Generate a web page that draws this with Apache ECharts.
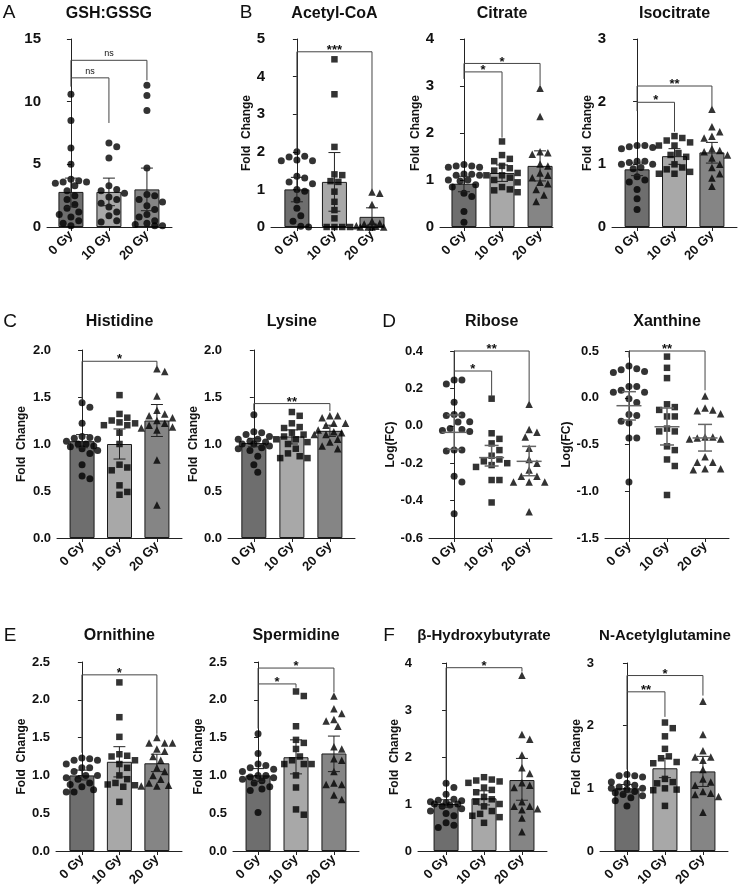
<!DOCTYPE html>
<html>
<head>
    <meta charset="utf-8">
    <script src="https://cdn.jsdelivr.net/npm/echarts@6/dist/echarts.min.js"></script>
    <style>
        body { margin: 0; background: #fff; }
        #main { width: 740px; height: 895px; }
    </style>
</head>
<body>
    <div id="main"></div>
    <script type="text/javascript">
        var FONT = '"Liberation Sans", Arial, sans-serif';
        var doses = ['0 Gy', '10 Gy', '20 Gy'];
        var barColors = ['#6e6e6e', '#a8a8a8', '#858585'];
        var symbols = ['circle', 'rect', 'triangle'];

        // A - GSH:GSSG
        var gsh0 = [10.6, 8.5, 6.3, 5.0, 3.8, 3.7, 3.6, 3.6, 3.5, 3.3, 2.9, 2.5, 2.2, 1.8, 1.5, 1.2, 1.0, 0.8, 0.5, 0.3, 0.1];
        var gsh10 = [6.7, 6.4, 5.5, 3.3, 3.0, 2.9, 2.7, 2.4, 2.2, 1.9, 1.6, 1.2, 0.9, 0.5, 0.4];
        var gsh20 = [11.3, 10.5, 9.3, 4.7, 2.6, 2.5, 2.2, 2.0, 1.7, 1.4, 1.0, 0.8, 0.5, 0.3, 0.2, 0.1, 0.1];
        var gshMean = [2.8, 2.8, 3.0];
        var gshLow = [1.6, 1.7, 1.3];
        var gshHigh = [3.9, 3.9, 4.7];
        var gshSig = [[0, 2, 13.3, 11.9, 11.7], [0, 1, 11.9, 11.2, 8.3]];
        var gshSigText = ['ns', 'ns'];

        // B - Acetyl-CoA
        var acetyl0 = [2.0, 1.88, 1.86, 1.78, 1.76, 1.76, 1.35, 1.3, 1.2, 1.15, 1.0, 0.95, 0.72, 0.5, 0.3, 0.15, 0.02, 0.0];
        var acetyl10 = [4.46, 3.53, 2.13, 1.4, 1.38, 1.22, 1.2, 0.94, 0.67, 0.45, 0.23, 0.0, 0.0, 0.0, 0.0];
        var acetyl20 = [0.93, 0.9, 0.6, 0.15, 0.1, 0.08, 0.05, 0.03, 0.02, 0.0, 0.0, 0.0, 0.0];
        var acetylMean = [1.0, 1.2, 0.27];
        var acetylLow = [0.67, 0.42, 0.03];
        var acetylHigh = [1.32, 1.98, 0.51];
        var acetylSig = [[0, 2, 4.66, 2.05, 0.98]];
        var acetylSigText = ['***'];

        // B - Citrate
        var citrate0 = [1.33, 1.3, 1.3, 1.27, 1.27, 1.13, 1.12, 1.1, 1.1, 1.0, 1.0, 0.98, 0.9, 0.85, 0.72, 0.65, 0.33, 0.1];
        var citrate10 = [1.82, 1.53, 1.45, 1.4, 1.3, 1.25, 1.2, 1.15, 1.1, 1.1, 1.05, 1.0, 0.95, 0.85, 0.8, 0.78, 0.74];
        var citrate20 = [2.95, 2.35, 1.6, 1.58, 1.55, 1.55, 1.34, 1.3, 1.15, 1.1, 1.05, 0.95, 0.92, 0.8, 0.68, 0.54];
        var citrateMean = [0.92, 1.15, 1.3];
        var citrateLow = [0.75, 0.97, 0.98];
        var citrateHigh = [1.08, 1.32, 1.62];
        var citrateSig = [[0, 2, 3.48, 3.3, 3.02], [0, 1, 3.3, 3.15, 1.9]];
        var citrateSigText = ['*', '*'];

        // B - Isocitrate
        var iso0 = [1.3, 1.3, 1.28, 1.27, 1.25, 1.05, 1.05, 1.03, 1.0, 1.0, 0.95, 0.93, 0.8, 0.75, 0.72, 0.6, 0.45, 0.28];
        var iso10 = [1.45, 1.42, 1.38, 1.35, 1.3, 1.3, 1.18, 1.15, 1.12, 1.0, 0.95, 0.92, 0.88, 0.85, 0.85];
        var iso20 = [1.88, 1.6, 1.52, 1.45, 1.42, 1.25, 1.22, 1.2, 1.15, 1.1, 1.0, 0.95, 0.85, 0.78, 0.65];
        var isoMean = [0.92, 1.13, 1.19];
        var isoLow = [0.82, 1.0, 1.02];
        var isoHigh = [1.02, 1.25, 1.35];
        var isoSig = [[0, 2, 2.25, 1.99, 1.92], [0, 1, 1.99, 1.85, 1.52]];
        var isoSigText = ['**', '*'];

        // C - Histidine
        var his0 = [1.44, 1.39, 1.22, 1.08, 1.07, 1.06, 1.05, 1.03, 1.0, 1.0, 0.98, 0.97, 0.95, 0.93, 0.9, 0.78, 0.66, 0.63];
        var his10 = [1.52, 1.32, 1.28, 1.25, 1.23, 1.22, 1.2, 1.2, 1.12, 1.0, 0.78, 0.75, 0.72, 0.56, 0.49, 0.46];
        var his20 = [1.8, 1.77, 1.51, 1.36, 1.32, 1.3, 1.28, 1.25, 1.22, 1.2, 1.18, 1.17, 1.15, 0.83, 0.35];
        var hisMean = [1.03, 1.0, 1.25];
        var hisLow = [0.96, 0.84, 1.08];
        var hisHigh = [1.1, 1.16, 1.42];
        var hisSig = [[0, 2, 1.88, 1.46, 1.83]];
        var hisSigText = ['*'];

        // C - Lysine
        var lys0 = [1.31, 1.13, 1.12, 1.1, 1.08, 1.05, 1.05, 1.03, 1.02, 1.0, 1.0, 0.98, 0.96, 0.95, 0.93, 0.87, 0.78, 0.7];
        var lys10 = [1.34, 1.3, 1.22, 1.18, 1.17, 1.12, 1.1, 1.08, 1.05, 1.05, 1.02, 1.0, 0.95, 0.9, 0.87, 0.85, 0.85];
        var lys20 = [1.3, 1.3, 1.28, 1.22, 1.22, 1.2, 1.15, 1.13, 1.12, 1.1, 1.1, 1.05, 1.02, 0.98, 0.95];
        var lysMean = [1.01, 1.08, 1.14];
        var lysLow = [0.97, 1.0, 1.08];
        var lysHigh = [1.06, 1.15, 1.2];
        var lysSig = [[0, 2, 1.43, 1.36, 1.35]];
        var lysSigText = ['**'];

        // D - Ribose (log fold change)
        var rib0 = [0.245, 0.245, 0.224, 0.126, 0.06, 0.058, 0.055, 0.022, 0.02, -0.015, -0.02, -0.025, -0.03, -0.13, -0.13, -0.135, -0.27, -0.3, -0.47];
        var rib10 = [0.145, -0.04, -0.07, -0.094, -0.13, -0.16, -0.18, -0.19, -0.2, -0.21, -0.22, -0.29, -0.29, -0.41];
        var rib20 = [0.115, -0.02, -0.035, -0.06, -0.12, -0.18, -0.2, -0.236, -0.27, -0.27, -0.3, -0.3, -0.3, -0.46];
        var ribMean = [-0.035, -0.17, -0.19];
        var ribLow = [-0.126, -0.215, -0.267];
        var ribHigh = [0.058, -0.105, -0.11];
        var ribSig = [[0, 2, 0.4, 0.293, 0.13], [0, 1, 0.293, 0.263, 0.155]];
        var ribSigText = ['**', '*'];

        // D - Xanthine (log fold change)
        var xan0 = [0.34, 0.31, 0.3, 0.28, 0.27, 0.12, 0.12, 0.08, 0.06, 0.06, -0.01, -0.05, -0.18, -0.19, -0.25, -0.27, -0.43, -0.43, -0.9];
        var xan10 = [0.44, 0.32, 0.21, -0.07, -0.1, -0.13, -0.2, -0.2, -0.33, -0.36, -0.36, -0.52, -0.56, -0.66, -0.73, -1.04];
        var xan20 = [0.02, -0.11, -0.13, -0.14, -0.17, -0.42, -0.42, -0.43, -0.44, -0.44, -0.63, -0.69, -0.69, -0.76, -0.76, -0.77];
        var xanMean = [-0.085, -0.31, -0.43];
        var xanLow = [-0.238, -0.505, -0.57];
        var xanHigh = [0.065, -0.11, -0.285];
        var xanSig = [[0, 2, 0.5, 0.43, 0.08]];
        var xanSigText = ['**'];

        // E - Ornithine
        var orn0 = [1.23, 1.22, 1.2, 1.2, 1.15, 1.1, 1.1, 1.05, 1.0, 1.0, 0.97, 0.95, 0.9, 0.88, 0.85, 0.81, 0.78, 0.78];
        var orn10 = [2.23, 1.77, 1.51, 1.28, 1.26, 1.25, 1.2, 1.15, 1.1, 1.0, 0.95, 0.9, 0.88, 0.87, 0.85, 0.65];
        var orn20 = [1.5, 1.43, 1.43, 1.43, 1.35, 1.32, 1.25, 1.2, 1.1, 1.05, 1.0, 0.95, 0.9, 0.87, 0.86, 0.86];
        var ornMean = [1.0, 1.18, 1.16];
        var ornLow = [0.94, 0.98, 1.05];
        var ornHigh = [1.07, 1.38, 1.28];
        var ornSig = [[0, 2, 2.33, 1.3, 1.55]];
        var ornSigText = ['*'];

        // E - Spermidine
        var spd0 = [1.55, 1.29, 1.15, 1.13, 1.1, 1.08, 1.05, 1.0, 1.0, 0.98, 0.97, 0.95, 0.93, 0.9, 0.85, 0.82, 0.8, 0.51];
        var spd10 = [2.11, 2.05, 1.65, 1.47, 1.43, 1.35, 1.25, 1.2, 1.15, 1.15, 1.15, 1.0, 0.84, 0.55, 0.48];
        var spd20 = [2.05, 1.88, 1.82, 1.74, 1.72, 1.65, 1.38, 1.35, 1.22, 1.2, 1.05, 0.9, 0.88, 0.88, 0.74, 0.68];
        var spdMean = [1.0, 1.24, 1.29];
        var spdLow = [0.92, 1.02, 1.05];
        var spdHigh = [1.09, 1.47, 1.52];
        var spdSig = [[0, 2, 2.42, 2.21, 2.1], [0, 1, 2.21, 1.62, 2.16]];
        var spdSigText = ['*', '*'];

        // F - beta-Hydroxybutyrate
        var bhb0 = [1.44, 1.35, 1.21, 1.1, 1.08, 1.07, 1.05, 1.03, 1.0, 1.0, 0.98, 0.95, 0.9, 0.85, 0.8, 0.75, 0.6, 0.55, 0.5];
        var bhb10 = [1.57, 1.52, 1.5, 1.48, 1.45, 1.35, 1.3, 1.25, 1.15, 1.1, 1.05, 1.0, 0.95, 0.85, 0.79, 0.75, 0.72, 0.6];
        var bhb20 = [3.74, 2.48, 2.38, 2.04, 1.77, 1.65, 1.45, 1.4, 1.35, 1.05, 0.95, 0.95, 0.9, 0.88, 0.7, 0.41];
        var bhbMean = [1.0, 1.12, 1.51];
        var bhbLow = [0.93, 0.98, 1.08];
        var bhbHigh = [1.09, 1.28, 1.97];
        var bhbSig = [[0, 2, 3.9, 1.5, 3.82]];
        var bhbSigText = ['*'];

        // F - N-Acetylglutamine
        var nag0 = [1.22, 1.2, 1.2, 1.18, 1.1, 1.08, 1.05, 1.02, 1.0, 1.0, 0.98, 0.95, 0.93, 0.9, 0.88, 0.85, 0.8, 0.72];
        var nag10 = [2.05, 1.96, 1.83, 1.63, 1.51, 1.48, 1.42, 1.4, 1.15, 1.1, 1.08, 1.0, 0.98, 0.97, 0.72];
        var nag20 = [2.39, 1.86, 1.6, 1.5, 1.5, 1.45, 1.3, 1.15, 1.1, 1.05, 0.95, 0.92, 0.9, 0.87, 0.62];
        var nagMean = [1.0, 1.32, 1.27];
        var nagLow = [0.94, 1.17, 1.03];
        var nagHigh = [1.06, 1.48, 1.51];
        var nagSig = [[0, 2, 2.8, 2.54, 2.48], [0, 1, 2.54, 1.3, 2.14]];
        var nagSigText = ['*', '**'];

        var FC = 'Fold  Change';
        // layout: grid [left, top, width, height], x range, y [min, max, interval]
        var panels = [
            {title: 'GSH:GSSG', grid: [47, 39, 125, 188], x: [-0.63, 2.66], y: [0, 15, 5], dec: 0, fs: 15, name: '', gap: 0,
             pts: [gsh0, gsh10, gsh20], mean: gshMean, lo: gshLow, hi: gshHigh, sig: gshSig, sigText: gshSigText, bars: true, circles: true},
            {title: 'Acetyl-CoA', grid: [271, 39, 113, 188], x: [-0.69, 2.32], y: [0, 5, 1], dec: 0, fs: 15, name: FC, gap: 14,
             pts: [acetyl0, acetyl10, acetyl20], mean: acetylMean, lo: acetylLow, hi: acetylHigh, sig: acetylSig, sigText: acetylSigText, bars: true},
            {title: 'Citrate', grid: [440, 39, 113, 188], x: [-0.63, 2.34], y: [0, 4, 1], dec: 0, fs: 15, name: FC, gap: 16,
             pts: [citrate0, citrate10, citrate20], mean: citrateMean, lo: citrateLow, hi: citrateHigh, sig: citrateSig, sigText: citrateSigText, bars: true},
            {title: 'Isocitrate', grid: [612, 39, 125, 188], x: [-0.67, 2.67], y: [0, 3, 1], dec: 0, fs: 15, name: FC, gap: 16,
             pts: [iso0, iso10, iso20], mean: isoMean, lo: isoLow, hi: isoHigh, sig: isoSig, sigText: isoSigText, bars: true},
            {title: 'Histidine', grid: [57, 350, 125, 188], x: [-0.67, 2.67], y: [0, 2, 0.5], dec: 1, fs: 13, name: FC, gap: 29,
             pts: [his0, his10, his20], mean: hisMean, lo: hisLow, hi: hisHigh, sig: hisSig, sigText: hisSigText, bars: true},
            {title: 'Lysine', grid: [228, 350, 127, 188], x: [-0.68, 2.66], y: [0, 2, 0.5], dec: 1, fs: 13, name: FC, gap: 25,
             pts: [lys0, lys10, lys20], mean: lysMean, lo: lysLow, hi: lysHigh, sig: lysSig, sigText: lysSigText, bars: true},
            {title: 'Ribose', grid: [429, 351, 123, 187], x: [-0.67, 2.61], y: [-0.6, 0.4, 0.2], dec: 1, fs: 13, name: 'Log(FC)', gap: 30,
             pts: [rib0, rib10, rib20], mean: ribMean, lo: ribLow, hi: ribHigh, sig: ribSig, sigText: ribSigText, bars: false},
            {title: 'Xanthine', grid: [605, 351, 124, 187], x: [-0.63, 2.63], y: [-1.5, 0.5, 0.5], dec: 1, fs: 13, name: 'Log(FC)', gap: 32,
             pts: [xan0, xan10, xan20], mean: xanMean, lo: xanLow, hi: xanHigh, sig: xanSig, sigText: xanSigText, bars: false},
            {title: 'Ornithine', grid: [56, 662, 126, 189], x: [-0.69, 2.67], y: [0, 2.5, 0.5], dec: 1, fs: 13, name: FC, gap: 27,
             pts: [orn0, orn10, orn20], mean: ornMean, lo: ornLow, hi: ornHigh, sig: ornSig, sigText: ornSigText, bars: true},
            {title: 'Spermidine', grid: [233, 662, 126, 189], x: [-0.66, 2.66], y: [0, 2.5, 0.5], dec: 1, fs: 13, name: FC, gap: 25,
             pts: [spd0, spd10, spd20], mean: spdMean, lo: spdLow, hi: spdHigh, sig: spdSig, sigText: spdSigText, bars: true},
            {title: '\u03b2-Hydroxybutyrate', grid: [418, 663, 129, 188], x: [-0.74, 2.66], y: [0, 4, 1], dec: 0, fs: 13, name: FC, gap: 12,
             pts: [bhb0, bhb10, bhb20], mean: bhbMean, lo: bhbLow, hi: bhbHigh, sig: bhbSig, sigText: bhbSigText, bars: true},
            {title: 'N-Acetylglutamine', grid: [600, 663, 128, 188], x: [-0.71, 2.66], y: [0, 3, 1], dec: 0, fs: 13, name: FC, gap: 12,
             pts: [nag0, nag10, nag20], mean: nagMean, lo: nagLow, hi: nagHigh, sig: nagSig, sigText: nagSigText, bars: true}
        ];
        var titleRowY = [14, 14, 14, 14, 322, 322, 322, 322, 636, 636, 636, 636];
        var titleSize = [16, 16, 16, 16, 16, 16, 16, 16, 16, 16, 15, 15];
        var letters = [['A', 9, 13], ['B', 246, 13], ['C', 10, 322], ['D', 389, 322], ['E', 10, 636], ['F', 389, 636]];

        // simple beeswarm: spread points of one group sideways so they don't overlap
        function swarm(vals, pxX, pxY) {
            var order = vals.map(function (v, i) { return i; }).sort(function (a, b) { return vals[b] - vals[a]; });
            var placed = [];
            var out = [];
            var dmin = 7.8, step = 3.9;
            order.forEach(function (i) {
                var y = vals[i] * pxY;
                var best = 0, bestD = -1;
                for (var k = 0; k < 9; k++) {
                    var off = k === 0 ? 0 : (k % 2 ? 1 : -1) * Math.ceil(k / 2) * step;
                    var dm = 1e9;
                    placed.forEach(function (p) {
                        var d = Math.sqrt((p[0] - off) * (p[0] - off) + (p[1] - y) * (p[1] - y));
                        if (d < dm) dm = d;
                    });
                    if (dm >= dmin) { best = off; bestD = dm; break; }
                    if (dm > bestD) { bestD = dm; best = off; }
                }
                placed.push([best, y]);
                out[i] = [best / pxX, vals[i]];
            });
            return out;
        }

        function errItem(capW, meanW, color, lw) {
            return function (params, api) {
                var x = api.value(0);
                var pm = api.coord([x, api.value(1)]);
                var pl = api.coord([x, api.value(2)]);
                var ph = api.coord([x, api.value(3)]);
                var st = {stroke: color, lineWidth: lw};
                var kids = [
                    {type: 'line', shape: {x1: ph[0], y1: ph[1], x2: pl[0], y2: pl[1]}, style: st},
                    {type: 'line', shape: {x1: ph[0] - capW / 2, y1: ph[1], x2: ph[0] + capW / 2, y2: ph[1]}, style: st},
                    {type: 'line', shape: {x1: pl[0] - capW / 2, y1: pl[1], x2: pl[0] + capW / 2, y2: pl[1]}, style: st}
                ];
                if (meanW) {
                    kids.push({type: 'line', shape: {x1: pm[0] - meanW / 2, y1: pm[1], x2: pm[0] + meanW / 2, y2: pm[1]}, style: st});
                }
                return {type: 'group', children: kids};
            };
        }

        function bracketItem(texts) {
            return function (params, api) {
                var a = api.coord([api.value(0), api.value(3)]);
                var b = api.coord([api.value(0), api.value(2)]);
                var c = api.coord([api.value(1), api.value(2)]);
                var d = api.coord([api.value(1), api.value(4)]);
                var t = texts[params.dataIndex];
                var ns = t === 'ns';
                return {type: 'group', children: [
                    {type: 'polyline', shape: {points: [a, b, c, d]}, style: {stroke: '#444', lineWidth: 1, fill: null}},
                    {type: 'text', x: (b[0] + c[0]) / 2, y: b[1] + (ns ? -2 : 5),
                     style: {text: t, font: ns ? '9px ' + FONT : 'bold 13px ' + FONT, fill: '#111', align: 'center', verticalAlign: 'bottom'}}
                ]};
            };
        }

        var grids = [], xAxes = [], yAxes = [], series = [], graphics = [];

        panels.forEach(function (p, idx) {
            var g = p.grid;
            grids.push({left: g[0], top: g[1], width: g[2], height: g[3]});
            var pxX = g[2] / (p.x[1] - p.x[0]);
            var pxY = g[3] / (p.y[1] - p.y[0]);

            xAxes.push({
                gridIndex: idx, type: 'value', min: p.x[0], max: p.x[1],
                axisLine: {show: true, onZero: false, lineStyle: {color: '#222', width: 1}},
                axisTick: {show: true, customValues: [0, 1, 2], length: 4, lineStyle: {color: '#222'}},
                axisLabel: {customValues: [0, 1, 2], rotate: 45, margin: 6, fontSize: 13, fontWeight: 'bold', fontFamily: FONT, color: '#111',
                    formatter: function (v) { return doses[Math.round(v)]; }},
                splitLine: {show: false}
            });
            yAxes.push({
                gridIndex: idx, type: 'value', min: p.y[0], max: p.y[1], interval: p.y[2],
                axisLine: {show: true, lineStyle: {color: '#222', width: 1}},
                axisTick: {show: true, length: 4, lineStyle: {color: '#222'}},
                axisLabel: {margin: 6, fontSize: p.fs, fontWeight: 'bold', fontFamily: FONT, color: '#111',
                    formatter: function (v) { if (Math.abs(v) < 1e-9) v = 0; return v.toFixed(p.dec); }},
                splitLine: {show: false},
                name: p.name, nameLocation: 'middle', nameGap: p.gap,
                nameTextStyle: {fontSize: 12, fontWeight: 'bold', fontFamily: FONT, color: '#111'}
            });

            if (p.bars) {
                series.push({
                    type: 'bar', xAxisIndex: idx, yAxisIndex: idx, barWidth: 25, silent: true, z: 1,
                    itemStyle: {borderColor: '#1a1a1a', borderWidth: 1},
                    data: p.mean.map(function (m, i) { return {value: [i, m], itemStyle: {color: barColors[i]}}; })
                });
            }

            p.pts.forEach(function (vals, gi) {
                var sw = swarm(vals, pxX, pxY);
                var sym = p.circles ? 'circle' : symbols[gi];
                series.push({
                    type: 'scatter', xAxisIndex: idx, yAxisIndex: idx, silent: true, z: 3,
                    symbol: sym, symbolSize: sym === 'triangle' ? 7.5 : (sym === 'rect' ? 6.5 : 7),
                    itemStyle: {color: '#000'},
                    data: sw.map(function (d) { return [gi + d[0], d[1]]; })
                });
            });

            series.push({
                type: 'custom', xAxisIndex: idx, yAxisIndex: idx, silent: true, z: 4,
                renderItem: p.bars ? errItem(12, 0, '#222', 1) : errItem(14, 25, '#666', 1.5),
                encode: {x: 0, y: [1, 2, 3]},
                data: p.mean.map(function (m, i) { return [i, m, p.lo[i], p.hi[i]]; })
            });

            series.push({
                type: 'custom', xAxisIndex: idx, yAxisIndex: idx, silent: true, z: 5, clip: false,
                renderItem: bracketItem(p.sigText),
                encode: {x: [0, 1], y: [2, 3, 4]},
                data: p.sig
            });

            graphics.push({
                type: 'text', x: g[0] + (1 - p.x[0]) * pxX, y: titleRowY[idx],
                style: {text: p.title, font: 'bold ' + titleSize[idx] + 'px ' + FONT, fill: '#111', align: 'center', verticalAlign: 'middle'}
            });
        });

        letters.forEach(function (l) {
            graphics.push({type: 'text', x: l[1], y: l[2],
                style: {text: l[0], font: '19px ' + FONT, fill: '#111', align: 'center', verticalAlign: 'middle'}});
        });

        var myChart = echarts.init(document.getElementById('main'), null, {renderer: 'canvas'});
        myChart.setOption({
            backgroundColor: '#fff',
            animation: false,
            grid: grids,
            xAxis: xAxes,
            yAxis: yAxes,
            series: series,
            graphic: graphics
        });
    </script>
</body>
</html>
